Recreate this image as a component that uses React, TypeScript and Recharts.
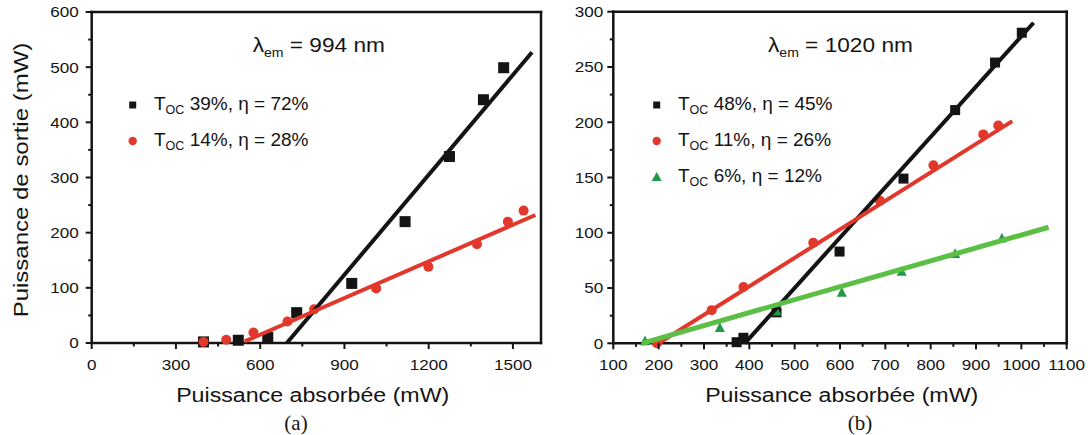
import React from 'react';
import { ScatterChart, Scatter, XAxis, YAxis, Legend } from 'recharts';

const FONT = '"Liberation Sans", Arial, Helvetica, sans-serif';
const SERIF = '"Liberation Serif", "Times New Roman", serif';
const BLACK = '#141414';
const RED = '#e2382b';
const GREEN_LINE = '#5cbf45';
const GREEN_PT = '#22994a';

// (a) lambda_em = 994 nm
const absA39 = [398, 522, 627, 730, 926, 1116, 1274, 1395, 1467];
const outA39 = [2, 5, 10, 55, 108, 220, 338, 441, 499];
const absA14 = [398, 479, 576, 697, 792, 1013, 1199, 1372, 1482, 1538];
const outA14 = [2, 6, 19, 39, 61, 99, 138, 179, 220, 240];
const fitAbsA39 = [695, 1568];
const fitOutA39 = [0, 527];
const fitAbsA14 = [545, 1580];
const fitOutA14 = [3, 232];
const xMajorA = [0, 300, 600, 900, 1200, 1500];
const xMinorA = [150, 450, 750, 1050, 1350];
const yMajorA = [0, 100, 200, 300, 400, 500, 600];
const yMinorA = [50, 150, 250, 350, 450, 550];
const legendA = ['39%, η = 72%', '14%, η = 28%'];

// (b) lambda_em = 1020 nm
const absB48 = [372, 387, 460, 599, 740, 854, 942, 1001];
const outB48 = [1, 5, 28, 83, 149, 211, 254, 281];
const absB11 = [196, 317, 387, 541, 688, 806, 916, 949];
const outB11 = [0, 30, 51, 91, 129, 161, 189, 197];
const absB6 = [170, 335, 460, 604, 736, 854, 957];
const outB6 = [2, 14, 29, 46, 65, 81, 95];
const fitAbsB48 = [390, 1027];
const fitOutB48 = [0, 290];
const fitAbsB11 = [200, 980];
const fitOutB11 = [0, 201];
const fitAbsB6 = [163, 1060];
const fitOutB6 = [0, 105];
const xMajorB = [100, 200, 300, 400, 500, 600, 700, 800, 900, 1000, 1100];
const xMinorB = [150, 250, 350, 450, 550, 650, 750, 850, 950, 1050];
const yMajorB = [0, 50, 100, 150, 200, 250, 300];
const yMinorB = [25, 75, 125, 175, 225, 275];
const legendB = ['48%, η = 45%', '11%, η = 26%', '6%, η = 12%'];

const pts = (xs: number[], ys: number[]) => xs.map((x, i) => ({ x, y: ys[i] }));
const sorted = (a: number[], b: number[]) => [...a, ...b].sort((p, q) => p - q);

type Side = 'bottom' | 'top' | 'left' | 'right';

function makeTick(side: Side, majors: number[], showLabel: boolean, gap = 12) {
  return (props: any) => {
    const { x, y, payload } = props;
    const v = payload.value;
    const major = majors.indexOf(v) >= 0;
    const len = major ? 6 : 3.5;
    let x2 = x;
    let y2 = y;
    if (side === 'bottom' || side === 'top') y2 = y + len;
    if (side === 'left' || side === 'right') x2 = x - len;
    return (
      <g>
        <line x1={x} y1={y} x2={x2} y2={y2} stroke={BLACK} strokeWidth={2} />
        {showLabel && major && side === 'bottom' && (
          <text transform={`translate(${x},${y + 27}) scale(1.14,1)`} textAnchor="middle"
            fontFamily={FONT} fontSize={15} fill={BLACK}>{v}</text>
        )}
        {showLabel && major && side === 'left' && (
          <text transform={`translate(${x - gap},${y + 5.4}) scale(1.14,1)`} textAnchor="end"
            fontFamily={FONT} fontSize={15} fill={BLACK}>{v}</text>
        )}
      </g>
    );
  };
}

const square = (s: number, c: string) => (p: any) =>
  <rect x={p.cx - s / 2} y={p.cy - s / 2} width={s} height={s} fill={c} />;
const circle = (r: number, c: string) => (p: any) =>
  <circle cx={p.cx} cy={p.cy} r={r} fill={c} />;
const triangle = (s: number, c: string) => (p: any) =>
  <polygon points={`${p.cx},${p.cy - s * 0.55} ${p.cx - s / 2},${p.cy + s * 0.42} ${p.cx + s / 2},${p.cy + s * 0.42}`} fill={c} />;
const noShape = () => <g />;

const markerColors: Record<string, string> = { square: BLACK, circle: RED, triangle: GREEN_PT };

function legendMarker(type: string, color: string, cx: number, cy: number) {
  if (type === 'square') return <rect x={cx - 3.5} y={cy - 3.5} width={7} height={7} fill={color} />;
  if (type === 'circle') return <circle cx={cx} cy={cy} r={4.2} fill={color} />;
  return <polygon points={`${cx},${cy - 5} ${cx - 5},${cy + 4} ${cx + 5},${cy + 4}`} fill={color} />;
}

const LegendContent = (props: any) => {
  const order: string[] = props.order || [];
  const items = (props.payload || [])
    .filter((p: any) => p.type && p.type !== 'none')
    .slice()
    .sort((a: any, b: any) => order.indexOf(a.value) - order.indexOf(b.value));
  return (
    <svg width={230} height={items.length * 36 + 10} style={{ overflow: 'visible' }}>
      {items.map((p: any, i: number) => {
        const base = 25 + i * 36;
        return (
          <g key={i}>
            {legendMarker(p.type, markerColors[p.type] || p.color, 12.7, base - 5)}
            <text x={34} y={base} fontFamily={FONT} fontSize={19} fill={BLACK}>
              T<tspan fontSize={12.5} dy={4}>OC</tspan><tspan dy={-4}> {p.value}</tspan>
            </text>
          </g>
        );
      })}
    </svg>
  );
};

const axisLine = { stroke: BLACK, strokeWidth: 2.5, strokeLinecap: 'square' as const };

export default function App() {
  const xTicksA = sorted(xMajorA, xMinorA);
  const yTicksA = sorted(yMajorA, yMinorA);
  const xTicksB = sorted(xMajorB, xMinorB);
  const yTicksB = sorted(yMajorB, yMinorB);

  return (
    <div style={{ position: 'absolute', left: 0, top: 0, width: 1088, height: 435, background: '#fff' }}>
      <div style={{ position: 'absolute', left: 0, top: 0 }}>
        <ScatterChart width={560} height={435} margin={{ top: 11, left: 90.7, right: 18, bottom: 91 }}>
          <XAxis type="number" dataKey="x" domain={[0, 1600]} ticks={xTicksA} interval={0} height={1}
            tickSize={0} tickMargin={0} tickLine={false} axisLine={axisLine} tick={makeTick('bottom', xMajorA, true)} />
          <XAxis xAxisId="top" orientation="top" type="number" dataKey="x" domain={[0, 1600]} ticks={xTicksA} interval={0} height={1}
            tickSize={0} tickMargin={0} tickLine={false} axisLine={axisLine} tick={makeTick('top', xMajorA, false)} />
          <YAxis type="number" dataKey="y" domain={[0, 600]} ticks={yTicksA} interval={0} width={1}
            tickSize={0} tickMargin={0} tickLine={false} axisLine={axisLine} tick={makeTick('left', yMajorA, true, 13)} />
          <YAxis yAxisId="right" orientation="right" type="number" dataKey="y" domain={[0, 600]} ticks={yTicksA} interval={0} width={1}
            tickSize={0} tickMargin={0} tickLine={false} axisLine={axisLine} tick={makeTick('right', yMajorA, false)} />
          <Scatter name={legendA[0]} data={pts(absA39, outA39)} fill={BLACK} legendType="square"
            shape={square(11, BLACK)} isAnimationActive={false} />
          <Scatter name={legendA[1]} data={pts(absA14, outA14)} fill={RED} legendType="circle"
            shape={circle(5, RED)} isAnimationActive={false} />
          <Scatter data={pts(fitAbsA39, fitOutA39)} legendType="none" line={{ stroke: BLACK, strokeWidth: 4 }}
            shape={noShape} isAnimationActive={false} />
          <Scatter data={pts(fitAbsA14, fitOutA14)} legendType="none" line={{ stroke: RED, strokeWidth: 4 }}
            shape={noShape} isAnimationActive={false} />
          <Legend layout="vertical" align="center" verticalAlign="middle" content={<LegendContent order={legendA} />}
            wrapperStyle={{ left: 120, top: 85, width: 230, height: 120 }} />
        </ScatterChart>
      </div>

      <div style={{ position: 'absolute', left: 560, top: 0 }}>
        <ScatterChart width={528} height={435} margin={{ top: 10.7, left: 52.3, right: 20.3, bottom: 90.7 }}>
          <XAxis type="number" dataKey="x" domain={[100, 1100]} ticks={xTicksB} interval={0} height={1}
            tickSize={0} tickMargin={0} tickLine={false} axisLine={axisLine} tick={makeTick('bottom', xMajorB, true)} />
          <XAxis xAxisId="top" orientation="top" type="number" dataKey="x" domain={[100, 1100]} ticks={xTicksB} interval={0} height={1}
            tickSize={0} tickMargin={0} tickLine={false} axisLine={axisLine} tick={makeTick('top', xMajorB, false)} />
          <YAxis type="number" dataKey="y" domain={[0, 300]} ticks={yTicksB} interval={0} width={1}
            tickSize={0} tickMargin={0} tickLine={false} axisLine={axisLine} tick={makeTick('left', yMajorB, true, 10)} />
          <YAxis yAxisId="right" orientation="right" type="number" dataKey="y" domain={[0, 300]} ticks={yTicksB} interval={0} width={1}
            tickSize={0} tickMargin={0} tickLine={false} axisLine={axisLine} tick={makeTick('right', yMajorB, false)} />
          <Scatter name={legendB[0]} data={pts(absB48, outB48)} fill={BLACK} legendType="square"
            shape={square(10, BLACK)} isAnimationActive={false} />
          <Scatter name={legendB[1]} data={pts(absB11, outB11)} fill={RED} legendType="circle"
            shape={circle(5, RED)} isAnimationActive={false} />
          <Scatter name={legendB[2]} data={pts(absB6, outB6)} fill={GREEN_PT} legendType="triangle"
            shape={triangle(10, GREEN_PT)} isAnimationActive={false} />
          <Scatter data={pts(fitAbsB48, fitOutB48)} legendType="none" line={{ stroke: BLACK, strokeWidth: 4 }}
            shape={noShape} isAnimationActive={false} />
          <Scatter data={pts(fitAbsB11, fitOutB11)} legendType="none" line={{ stroke: RED, strokeWidth: 4 }}
            shape={noShape} isAnimationActive={false} />
          <Scatter data={pts(fitAbsB6, fitOutB6)} legendType="none" line={{ stroke: GREEN_LINE, strokeWidth: 5 }}
            shape={noShape} isAnimationActive={false} />
          <Legend layout="vertical" align="center" verticalAlign="middle" content={<LegendContent order={legendB} />}
            wrapperStyle={{ left: 84, top: 85, width: 230, height: 150 }} />
        </ScatterChart>
      </div>

      {/* titles and annotations */}
      <svg width={1088} height={435} style={{ position: 'absolute', left: 0, top: 0, pointerEvents: 'none' }}>
        <text transform="translate(28,180) rotate(-90) scale(1.2,1)" textAnchor="middle"
          fontFamily={FONT} fontSize={20} fill={BLACK}>Puissance de sortie (mW)</text>
        <text transform="translate(312.7,401.7) scale(1.16,1)" textAnchor="middle"
          fontFamily={FONT} fontSize={20} fill={BLACK}>Puissance absorbée (mW)</text>
        <text transform="translate(841.7,401.7) scale(1.16,1)" textAnchor="middle"
          fontFamily={FONT} fontSize={20} fill={BLACK}>Puissance absorbée (mW)</text>
        <text x={296} y={430} textAnchor="middle" fontFamily={SERIF} fontSize={21} fill={BLACK}>(a)</text>
        <text x={860} y={430} textAnchor="middle" fontFamily={SERIF} fontSize={21} fill={BLACK}>(b)</text>
        <text transform="translate(252.7,51.7) scale(1.08,1)" fontFamily={FONT} fontSize={21} fill={BLACK}>
          λ<tspan fontSize={13} dy={5}>em</tspan><tspan dy={-5}> = 994 nm</tspan>
        </text>
        <text transform="translate(768,51.7) scale(1.08,1)" fontFamily={FONT} fontSize={21} fill={BLACK}>
          λ<tspan fontSize={13} dy={5}>em</tspan><tspan dy={-5}> = 1020 nm</tspan>
        </text>
      </svg>
    </div>
  );
}
